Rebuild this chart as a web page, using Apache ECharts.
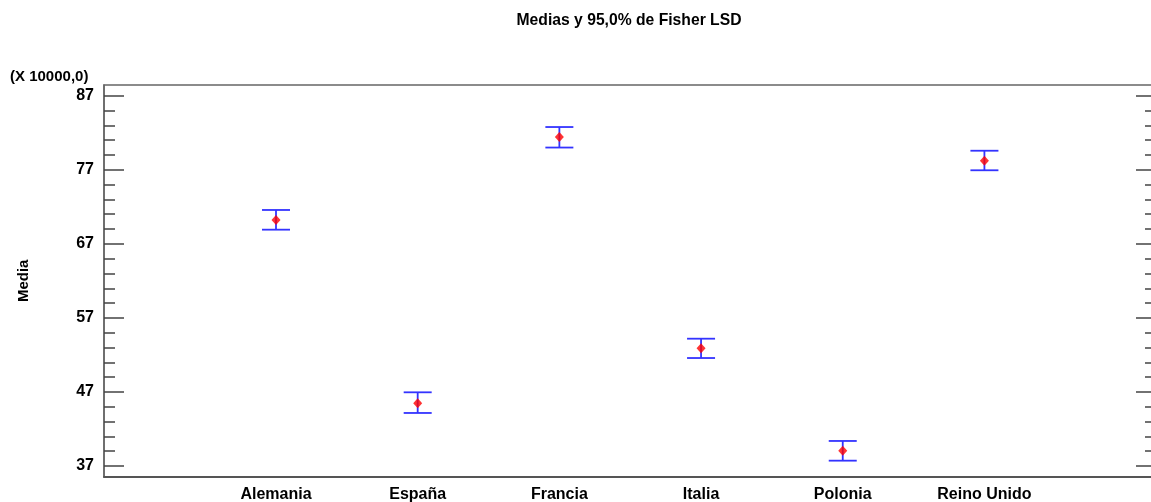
<!DOCTYPE html>
<head>
    <meta charset="utf-8">
    <title>ECharts</title>
    <script src="https://cdn.jsdelivr.net/npm/echarts@6/dist/echarts.min.js"></script>
<style type="text/css">
    body { margin: 0; background: #fff; }
    #main { width: 1151px; height: 502px; }
</style>
</head>

<body>
<div id="main"></div>
</body>

<script>
    // datos (X 10000,0)
    var paises = ['Alemania', 'España', 'Francia', 'Italia', 'Polonia', 'Reino Unido'];
    var medias = [70.22, 45.46, 81.42, 52.89, 39.07, 78.22];
    var limInf = [68.91, 44.16, 80.00, 51.58, 37.72, 76.93];
    var limSup = [71.57, 46.95, 82.77, 54.19, 40.38, 79.57];
    var ticksMayores = [37, 47, 57, 67, 77, 87];
    var ticksMenores = [39, 41, 43, 45, 49, 51, 53, 55, 59, 61, 63, 65, 69, 71, 73, 75, 79, 81, 83, 85];

    var fuente = 'Liberation Sans, Arial, sans-serif';
    var myChart = echarts.init(document.getElementById('main'));

    var puntos = [];
    var barras = [];
    for (var i = 0; i < paises.length; i++) {
        puntos.push([i, medias[i]]);
        barras.push([i, limInf[i], limSup[i]]);
    }

    function ejeY(pos, largo, valores, conEtiquetas) {
        return {
            type: 'value',
            position: pos,
            min: 35.555,
            max: 88.445,
            axisLine: {show: conEtiquetas, onZero: false, lineStyle: {color: '#666', width: 1.5}},
            splitLine: {show: false},
            axisTick: {show: true, inside: true, length: largo, customValues: valores,
                lineStyle: {color: '#444', width: 1.5}},
            axisLabel: {show: conEtiquetas, customValues: valores, margin: 10,
                color: '#000', fontWeight: 'bold', fontSize: 16, fontFamily: fuente}
        };
    }

    var ejes = [
        ejeY('left', 20, ticksMayores, true),
        ejeY('left', 11, ticksMenores, false),
        ejeY('right', 20, ticksMayores, false),
        ejeY('right', 11, ticksMenores, false)
    ];
    ejes[0].name = 'Media';
    ejes[0].nameLocation = 'middle';
    ejes[0].nameRotate = 90;
    ejes[0].nameGap = 73;
    ejes[0].nameTextStyle = {color: '#000', fontWeight: 'bold', fontSize: 15, fontFamily: fuente};

    var option = {
        backgroundColor: '#fff',
        animation: false,
        title: [
            {
                text: 'Medias y 95,0% de Fisher LSD',
                left: 624,
                top: 8,
                textAlign: 'center',
                textStyle: {color: '#000', fontWeight: 'bold', fontSize: 15.7, fontFamily: fuente}
            },
            {
                text: '(X 10000,0)',
                left: 5,
                top: 64,
                textStyle: {color: '#000', fontWeight: 'bold', fontSize: 15, fontFamily: fuente}
            }
        ],
        grid: {
            left: 104,
            top: 85,
            width: 1052,
            height: 391.7,
            outerBoundsMode: 'none',
            show: true,
            borderColor: '#666',
            borderWidth: 1.5
        },
        xAxis: {
            type: 'value',
            min: -1.214,
            max: 6.211,
            axisLine: {show: true, onZero: false, lineStyle: {color: '#555', width: 2}},
            splitLine: {show: false},
            axisTick: {show: false},
            axisLabel: {
                customValues: [0, 1, 2, 3, 4, 5],
                formatter: function (v) { return paises[Math.round(v)]; },
                margin: 10,
                color: '#000', fontWeight: 'bold', fontSize: 16, fontFamily: fuente
            }
        },
        yAxis: ejes,
        series: [
            {
                type: 'custom',
                yAxisIndex: 0,
                data: barras,
                renderItem: function (params, api) {
                    var x = api.value(0);
                    var abajo = api.coord([x, api.value(1)]);
                    var arriba = api.coord([x, api.value(2)]);
                    var w = 14;
                    var estilo = {stroke: '#3333ff', lineWidth: 1.8};
                    return {
                        type: 'group',
                        children: [
                            {type: 'line', shape: {x1: abajo[0], y1: abajo[1], x2: arriba[0], y2: arriba[1]}, style: estilo},
                            {type: 'line', shape: {x1: arriba[0] - w, y1: arriba[1], x2: arriba[0] + w, y2: arriba[1]}, style: estilo},
                            {type: 'line', shape: {x1: abajo[0] - w, y1: abajo[1], x2: abajo[0] + w, y2: abajo[1]}, style: estilo}
                        ]
                    };
                },
                z: 2
            },
            {
                type: 'scatter',
                yAxisIndex: 0,
                data: puntos,
                symbol: 'diamond',
                symbolSize: [9, 10],
                itemStyle: {color: '#ff0000'},
                z: 3
            }
        ]
    };
    myChart.setOption(option);
</script>
